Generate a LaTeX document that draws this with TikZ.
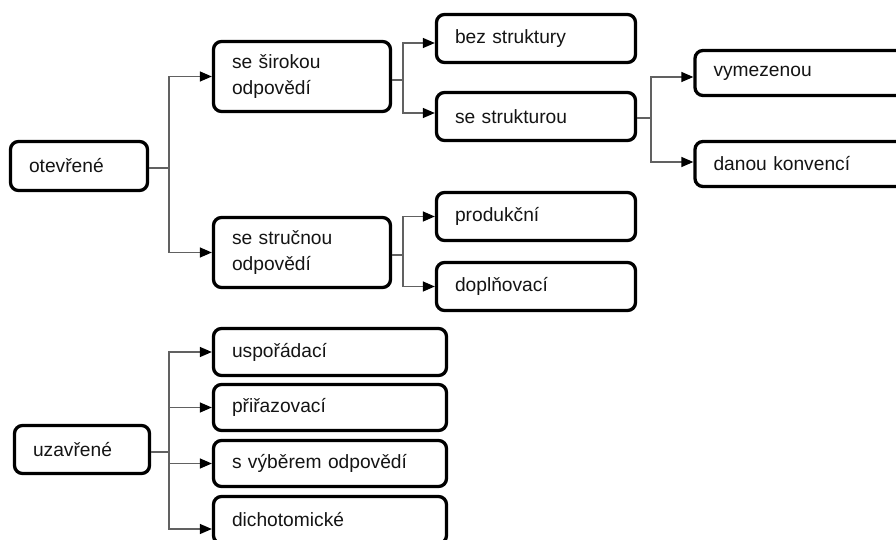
\documentclass[tikz,border=0pt]{standalone}
\usepackage{fontspec}
\setmainfont{Liberation Sans}
\usetikzlibrary{arrows.meta,calc}
\begin{document}
\begin{tikzpicture}[x=1pt,y=-1pt,
  box/.style={draw=black, line width=3.3pt, rounded corners=8pt, inner xsep=18.5pt, inner ysep=0pt,
    align=left, anchor=center, font=\fontsize{19.2}{25.5}\selectfont, text=black!92},
  conn/.style={draw=black!62, line width=1.3pt},
  arr/.style={conn, -{Triangle[length=12pt,width=10pt,color=black]}}]
\useasboundingbox (0,0) rectangle (896,540);
% boxes
\node[box, minimum width=137pt, minimum height=49pt, text width=100pt] (ot) at (79,166) {otevřené};
\node[box, minimum width=135pt, minimum height=48pt, text width=98pt] (uz) at (82,449.5) {uzavřené};
\node[box, minimum width=177pt, minimum height=70pt, text width=140pt] (sir) at (302,76.5) {se širokou\\odpovědí};
\node[box, minimum width=177pt, minimum height=70pt, text width=140pt] (stc) at (302,252.5) {se stručnou\\odpovědí};
\node[box, minimum width=199pt, minimum height=48pt, text width=162pt] (bez) at (536,38.5) {bez struktury};
\node[box, minimum width=199pt, minimum height=48pt, text width=162pt] (sst) at (536,116.5) {se strukturou};
\node[box, minimum width=199pt, minimum height=48pt, text width=162pt] (pro) at (536,216.5) {produkční};
\node[box, minimum width=199pt, minimum height=48pt, text width=162pt] (dop) at (536,286.5) {doplňovací};
\node[box, minimum width=210pt, minimum height=45pt, text width=173pt] (vym) at (800,73) {vymezenou};
\node[box, minimum width=210pt, minimum height=45pt, text width=173pt] (dan) at (800,164) {danou konvencí};
\node[box, minimum width=233pt, minimum height=47pt, text width=196pt] (usp) at (330,352) {uspořádací};
\node[box, minimum width=233pt, minimum height=46pt, text width=196pt] (pri) at (330,407.5) {přiřazovací};
\node[box, minimum width=233pt, minimum height=46pt, text width=196pt] (vyb) at (330,463.5) {s výběrem odpovědí};
\node[box, minimum width=233pt, minimum height=47pt, text width=196pt] (dic) at (330,520) {dichotomické};
% connectors
\coordinate (j1) at (169,168);
\draw[conn] (ot.east |- j1) -- (j1);
\draw[arr] (j1) |- (sir.west);
\draw[arr] (j1) |- (stc.west);
\coordinate (j2) at (403,80);
\draw[conn] (sir.east |- j2) -- (j2);
\draw[arr] (j2) |- ($(bez.west)+(0,4.5)$);
\draw[arr] (j2) |- ($(sst.west)+(0,-3.5)$);
\coordinate (j3) at (651,118);
\draw[conn] (sst.east |- j3) -- (j3);
\draw[arr] (j3) |- ($(vym.west)+(0,4)$);
\draw[arr] (j3) |- ($(dan.west)+(0,-2)$);
\coordinate (j4) at (403,255);
\draw[conn] (stc.east |- j4) -- (j4);
\draw[arr] (j4) |- (pro.west);
\draw[arr] (j4) |- (dop.west);
\coordinate (j5) at (169,452);
\draw[conn] (uz.east |- j5) -- (j5);
\draw[arr] (j5) |- (usp.west);
\draw[arr] (j5) |- (pri.west);
\draw[arr] (j5) |- (vyb.west);
\draw[arr] (j5) |- ($(dic.west)+(0,9)$);
\end{tikzpicture}
\end{document}
